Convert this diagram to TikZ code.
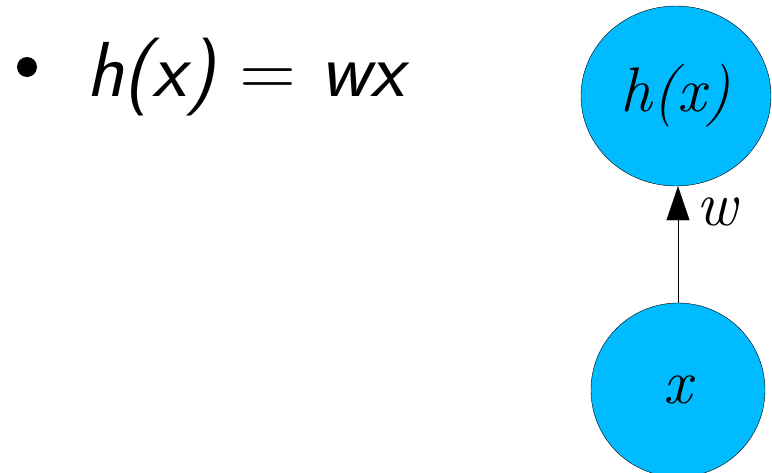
\documentclass[tikz,border=0pt]{standalone}
\usepackage{fontspec}
\usetikzlibrary{shapes.geometric, arrows.meta}
\definecolor{unitblue}{RGB}{0,187,255}

\begin{document}
\begin{tikzpicture}[x=1pt, y=-1pt,
    unit/.style={ellipse, draw, thin, fill=unitblue, inner sep=0pt,
      font=\rmfamily\itshape\fontsize{63}{63}\selectfont}]
  \useasboundingbox (0,0) rectangle (772,472);
  % bullet line
  \node[circle, fill, minimum size=20pt, inner sep=0pt] (bullet) at (27,67) {};
  \node[anchor=base west, inner sep=0pt, font=\sffamily\fontsize{78}{90}\selectfont]
    (rule) at (86,96) {{\itshape h(x)} = {\itshape wx}};
  % the two units
  \node[unit, minimum width=190pt, minimum height=180pt] (output) at (676,96) {h(x)};
  \node[unit, minimum width=174pt, minimum height=174pt] (input) at (678,390) {x};
  \draw[thin, -{Triangle[width=23pt, length=34pt]}] (input.north) -- (input.north |- output.south)
    node[pos=0.78, anchor=west, inner sep=0pt, xshift=18pt, font=\rmfamily\itshape\fontsize{63}{63}\selectfont] (weight) {w};
\end{tikzpicture}
\end{document}
